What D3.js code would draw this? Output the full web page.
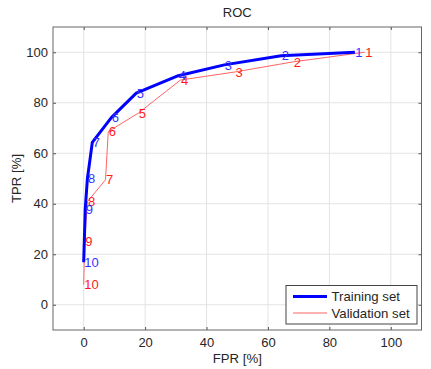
<!DOCTYPE html>
<html>
<head>
<meta charset="utf-8">
<script src="https://cdn.jsdelivr.net/npm/d3@7"></script>
<style>
  body { margin: 0; background: #fff; }
  text { font-family: "Liberation Sans", Arial, sans-serif; }
</style>
</head>
<body>
<svg width="431" height="369"></svg>
<script>
// ROC points, threshold index 1..10
var labels   = ["1", "2", "3", "4", "5", "6", "7", "8", "9", "10"];
var trainFPR = [88.3, 64.3, 45.8, 30.8, 17.1, 9.0, 2.8, 1.2, 0.5, 0];
var trainTPR = [100, 98.6, 95.0, 90.7, 83.8, 74.1, 64.3, 49.9, 37.9, 16.8];
var valFPR   = [91.5, 68.2, 49.3, 31.5, 17.8, 8.0, 7.1, 1.2, 0.3, 0];
var valTPR   = [100, 96.2, 92.2, 89.0, 75.9, 68.6, 49.5, 40.8, 25.3, 7.9];
var ticks    = [0, 20, 40, 60, 80, 100];

var svg = d3.select("svg");
var MARGIN = {top: 27, right: 9.5, bottom: 39, left: 53};
var WIDTH = svg.attr("width") - MARGIN.left - MARGIN.right;
var HEIGHT = svg.attr("height") - MARGIN.top - MARGIN.bottom;

var x = d3.scaleLinear().domain([-10, 110]).range([0, WIDTH]);
var y = d3.scaleLinear().domain([-10, 110]).range([HEIGHT, 0]);

var g = svg.append("g")
    .attr("transform", "translate(" + MARGIN.left + "," + MARGIN.top + ")");

// grid
g.append("g").selectAll("line").data(ticks).enter().append("line")
    .attr("x1", d => x(d)).attr("x2", d => x(d))
    .attr("y1", 0).attr("y2", HEIGHT)
    .attr("stroke", "#e3e3e3");
g.append("g").selectAll("line").data(ticks).enter().append("line")
    .attr("y1", d => y(d)).attr("y2", d => y(d))
    .attr("x1", 0).attr("x2", WIDTH)
    .attr("stroke", "#e3e3e3");

// axes, ticks pointing inward like matlab
function styleAxis(sel) {
    sel.select(".domain").remove();
    sel.selectAll(".tick line").attr("stroke", "#555");
    sel.selectAll(".tick text")
        .attr("fill", "#262626")
        .style("font-size", "13px")
        .style("font-family", "Liberation Sans, Arial, sans-serif");
}
g.append("g")
    .attr("transform", "translate(0," + HEIGHT + ")")
    .call(d3.axisBottom(x).tickValues(ticks).tickSizeInner(-3).tickPadding(8))
    .call(styleAxis);
g.append("g")
    .call(d3.axisLeft(y).tickValues(ticks).tickSizeInner(-3).tickPadding(5))
    .call(styleAxis);
g.append("g")
    .call(d3.axisTop(x).tickValues(ticks).tickSizeInner(-3).tickFormat(""))
    .call(styleAxis);
g.append("g")
    .attr("transform", "translate(" + WIDTH + ",0)")
    .call(d3.axisRight(y).tickValues(ticks).tickSizeInner(-3).tickFormat(""))
    .call(styleAxis);

g.append("rect")
    .attr("width", WIDTH).attr("height", HEIGHT)
    .attr("fill", "none").attr("stroke", "#666").attr("stroke-width", 1);

var train = labels.map((l, i) => ({label: l, fpr: trainFPR[i], tpr: trainTPR[i]}));
var val = labels.map((l, i) => ({label: l, fpr: valFPR[i], tpr: valTPR[i]}));

var line = d3.line()
    .x(d => x(d.fpr))
    .y(d => y(d.tpr));

g.append("path").datum(val)
    .attr("d", line)
    .attr("fill", "none")
    .attr("stroke", "#ff6464")
    .attr("stroke-width", 1);

g.append("path").datum(train)
    .attr("d", line)
    .attr("fill", "none")
    .attr("stroke", "#0000ff")
    .attr("stroke-width", 3)
    .attr("stroke-linejoin", "round");

function pointLabels(data, color) {
    g.append("g").selectAll("text").data(data).enter().append("text")
        .attr("x", d => x(d.fpr) + 0.5)
        .attr("y", d => y(d.tpr))
        .attr("dy", "0.36em")
        .attr("fill", color)
        .style("font-size", "13px")
        .text(d => d.label);
}
pointLabels(val, "#ff1a1a");
pointLabels(train, "#3333ff");

// title and axis labels
svg.append("text")
    .attr("x", MARGIN.left + WIDTH / 2).attr("y", 17)
    .attr("text-anchor", "middle").attr("fill", "#262626")
    .style("font-size", "13px")
    .text("ROC");
svg.append("text")
    .attr("x", MARGIN.left + WIDTH / 2).attr("y", 363)
    .attr("text-anchor", "middle").attr("fill", "#262626")
    .style("font-size", "13.2px")
    .text("FPR [%]");
svg.append("text")
    .attr("transform", "translate(20.5," + (MARGIN.top + HEIGHT / 2) + ") rotate(-90)")
    .attr("text-anchor", "middle").attr("fill", "#262626")
    .style("font-size", "13.2px")
    .text("TPR [%]");

// legend
var legend = g.append("g")
    .attr("transform", "translate(" + (WIDTH - 135.5) + "," + (HEIGHT - 44.5) + ")");
legend.append("rect")
    .attr("width", 131).attr("height", 38.5)
    .attr("fill", "#fff").attr("stroke", "#444");
var entries = [
    {name: "Training set", color: "#0000ff", w: 3},
    {name: "Validation set", color: "#ff6464", w: 1}
];
entries.forEach(function(e, i) {
    var yy = 11 + i * 16.5;
    legend.append("line")
        .attr("x1", 7).attr("x2", 41)
        .attr("y1", yy).attr("y2", yy)
        .attr("stroke", e.color).attr("stroke-width", e.w);
    legend.append("text")
        .attr("x", 45.5).attr("y", yy).attr("dy", "0.36em")
        .attr("fill", "#262626")
        .style("font-size", "13.2px")
        .text(e.name);
});
</script>
</body>
</html>
